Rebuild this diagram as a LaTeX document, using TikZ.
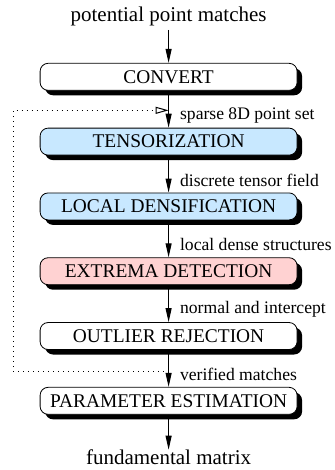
\documentclass[tikz,border=0pt]{standalone}
\usepackage{fontspec}
\setmainfont{Liberation Serif}
\usepackage{tikz}
\usepackage{xcolor}
\usetikzlibrary{arrows.meta,positioning,shadows}

\definecolor{stageblue}{RGB}{200,232,255}
\definecolor{stagepink}{RGB}{255,210,210}

\begin{document}
\begin{tikzpicture}[
  node distance=18.5pt,
  stage/.style={draw,rounded corners=4pt,minimum width=128.5pt,minimum height=13.5pt,inner sep=1pt,fill=white,text=black,
    font=\fontsize{9.7}{10}\selectfont,
    drop shadow={shadow xshift=2.5pt,shadow yshift=-2.5pt,fill=black,opacity=1}},
  tensor/.style={stage,fill=stageblue},
  detect/.style={stage,fill=stagepink},
  io/.style={inner sep=0pt,font=\fontsize{10.5}{11}\selectfont},
  lbl/.style={anchor=west,inner sep=0pt,xshift=5.5pt,font=\fontsize{8.8}{9}\selectfont},
  arr/.style={-{Triangle[length=7pt,width=3pt]},line width=0.5pt},
  fback/.style={dotted,line width=0.5pt,-{Triangle[open,length=6.5pt,width=3.5pt]}}
]
\useasboundingbox (0,0) rectangle (167.5pt,-235pt);
\node[io] (matches) at (84.3pt,-8pt) {potential point matches};
\node[stage,below=18.5pt of matches] (convert) {CONVERT};
\node[tensor,below=of convert] (tensorize) {TENSORIZATION};
\node[tensor,below=of tensorize] (densify) {LOCAL DENSIFICATION};
\node[detect,below=of densify] (extrema) {EXTREMA DETECTION};
\node[stage,below=of extrema] (outlier) {OUTLIER REJECTION};
\node[stage,below=of outlier] (estimate) {PARAMETER ESTIMATION};
\node[io,below=17.5pt of estimate] (fmatrix) {fundamental matrix};
\draw[arr,shorten <=2pt] (matches)--(convert);
\draw[arr] (convert)--(tensorize) node[lbl,pos=.66] (setlbl) {sparse 8D point set} coordinate[pos=.53] (fbtop);
\draw[arr] (tensorize)--(densify) node[lbl,pos=.66] (fieldlbl) {discrete tensor field};
\draw[arr] (densify)--(extrema) node[lbl,pos=.66] (denselbl) {local dense structures};
\draw[arr] (extrema)--(outlier) node[lbl,pos=.66] (normallbl) {normal and intercept};
\draw[arr] (outlier)--(estimate) node[lbl,pos=.66] (verifiedlbl) {verified matches} coordinate[pos=.57] (fbbottom);
\draw[arr] (estimate)--(fmatrix);
\coordinate (fbleft) at (6.5pt,0);
\draw[fback] (fbbottom) -- (fbbottom -| fbleft) -- (fbtop -| fbleft) -- (fbtop);
\end{tikzpicture}
\end{document}
